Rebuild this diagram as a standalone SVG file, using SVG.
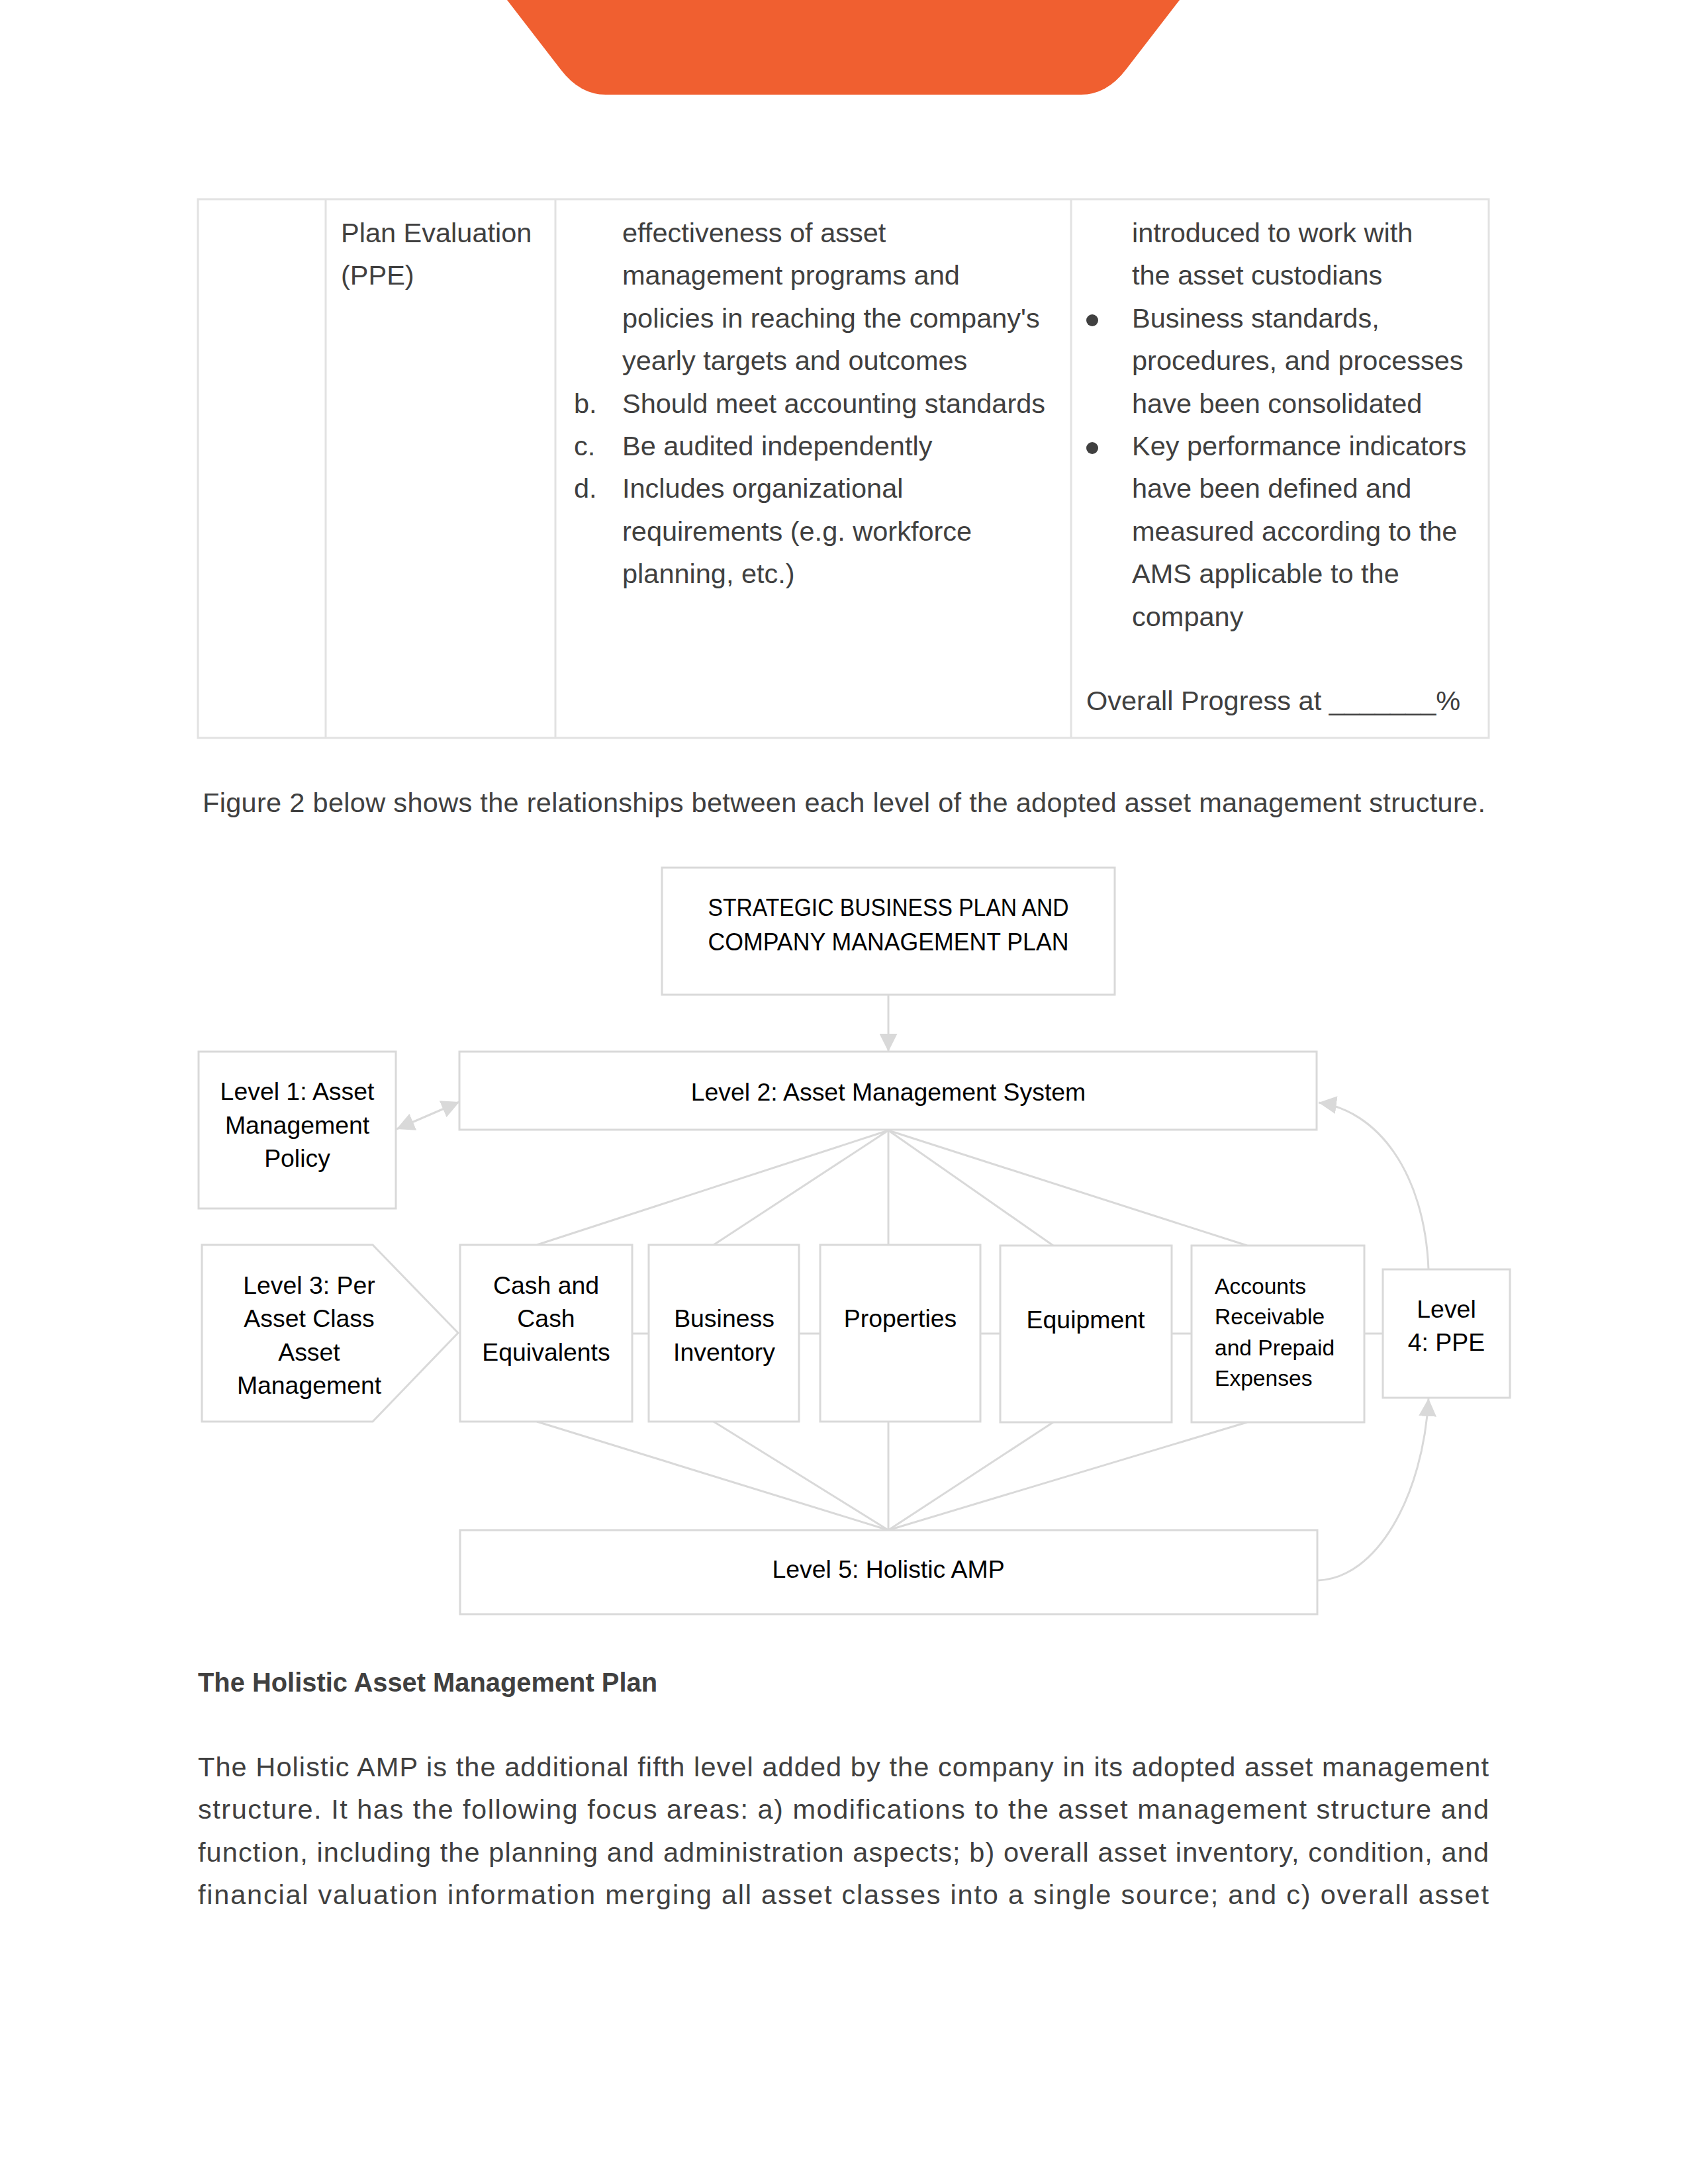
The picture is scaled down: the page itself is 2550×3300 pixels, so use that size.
<svg xmlns="http://www.w3.org/2000/svg" width="2550" height="3300" viewBox="0 0 2550 3300">
<defs>
<style>
.t{font-family:"Liberation Sans",Arial,sans-serif;font-size:41.5px;fill:#404040}
.d{font-family:"Liberation Sans",Arial,sans-serif;font-size:37.4px;fill:#000}
.ds{font-size:33.6px}
.c{text-anchor:middle}
.b{font-weight:bold}
.box{fill:#fff;stroke:#D9D9D9;stroke-width:3}
.tb{fill:none;stroke:#E2E2E2;stroke-width:3}
.ln{fill:none;stroke:#D9D9D9;stroke-width:3}
</style>
<marker id="ah2" viewBox="0 0 10 10" refX="10" refY="5" markerWidth="9" markerHeight="9" orient="auto-start-reverse">
<path d="M0,0 L10,5 L0,10 Z" fill="#D9D9D9"/>
</marker>
</defs>
<rect width="2550" height="3300" fill="#fff"/>
<path d="M766,0 L1782,0 L1701,105 Q1672,143 1633,143 L915,143 Q876,143 847,105 Z" fill="#F05F30"/>

<g id="table">
<rect class="tb" x="299" y="301" width="1950" height="814"/>
<line class="tb" x1="492" y1="301" x2="492" y2="1115"/>
<line class="tb" x1="839" y1="301" x2="839" y2="1115"/>
<line class="tb" x1="1618" y1="301" x2="1618" y2="1115"/>
<text class="t" x="515" y="366">Plan Evaluation</text>
<text class="t" x="515" y="430">(PPE)</text>
<text class="t" x="940" y="366">effectiveness of asset</text>
<text class="t" x="940" y="430">management programs and</text>
<text class="t" x="940" y="495">policies in reaching the company's</text>
<text class="t" x="940" y="559">yearly targets and outcomes</text>
<text class="t" x="867" y="624">b.</text>
<text class="t" x="940" y="624">Should meet accounting standards</text>
<text class="t" x="867" y="688">c.</text>
<text class="t" x="940" y="688">Be audited independently</text>
<text class="t" x="867" y="752">d.</text>
<text class="t" x="940" y="752">Includes organizational</text>
<text class="t" x="940" y="817">requirements (e.g. workforce</text>
<text class="t" x="940" y="881">planning, etc.)</text>
<text class="t" x="1710" y="366">introduced to work with</text>
<text class="t" x="1710" y="430">the asset custodians</text>
<circle cx="1650" cy="484" r="9" fill="#404040"/>
<text class="t" x="1710" y="495">Business standards,</text>
<text class="t" x="1710" y="559">procedures, and processes</text>
<text class="t" x="1710" y="624">have been consolidated</text>
<circle cx="1650" cy="677" r="9" fill="#404040"/>
<text class="t" x="1710" y="688">Key performance indicators</text>
<text class="t" x="1710" y="752">have been defined and</text>
<text class="t" x="1710" y="817">measured according to the</text>
<text class="t" x="1710" y="881">AMS applicable to the</text>
<text class="t" x="1710" y="946">company</text>
<text class="t" x="1641" y="1073">Overall Progress at _______%</text>
</g>

<text class="t c" x="1275" y="1227" textLength="1938" lengthAdjust="spacing">Figure 2 below shows the relationships between each level of the adopted asset management structure.</text>

<g id="connectors">
<line class="ln" x1="1342" y1="1504" x2="1342" y2="1589" marker-end="url(#ah2)"/>
<line class="ln" x1="599" y1="1706" x2="694" y2="1665" marker-start="url(#ah2)" marker-end="url(#ah2)"/>
<line class="ln" x1="1342" y1="1708" x2="811" y2="1881"/>
<line class="ln" x1="1342" y1="1708" x2="1078" y2="1881"/>
<line class="ln" x1="1342" y1="1708" x2="1342" y2="1881"/>
<line class="ln" x1="1342" y1="1708" x2="1591" y2="1882"/>
<line class="ln" x1="1342" y1="1708" x2="1884" y2="1882"/>
<line class="ln" x1="811" y1="2148" x2="1342" y2="2312"/>
<line class="ln" x1="1078" y1="2148" x2="1342" y2="2312"/>
<line class="ln" x1="1342" y1="2148" x2="1342" y2="2312"/>
<line class="ln" x1="1591" y1="2149" x2="1342" y2="2312"/>
<line class="ln" x1="1884" y1="2149" x2="1342" y2="2312"/>
<line class="ln" x1="955" y1="2015" x2="980" y2="2015"/>
<line class="ln" x1="1207" y1="2015" x2="1239" y2="2015"/>
<line class="ln" x1="1481" y1="2015" x2="1511" y2="2015"/>
<line class="ln" x1="1770" y1="2015" x2="1800" y2="2015"/>
<line class="ln" x1="2061" y1="2015" x2="2089" y2="2015"/>
<path class="ln" d="M2158,1918 C2152,1770 2080,1678 1992,1666" marker-end="url(#ah2)"/>
<path class="ln" d="M1991,2388 C2080,2385 2150,2260 2158,2113" marker-end="url(#ah2)"/>
</g>

<g id="strategic">
<rect class="box" x="1000" y="1311" width="684" height="192"/>
<text class="d c" x="1342" y="1384" textLength="545" lengthAdjust="spacingAndGlyphs">STRATEGIC BUSINESS PLAN AND</text>
<text class="d c" x="1342" y="1436" textLength="545" lengthAdjust="spacingAndGlyphs">COMPANY MANAGEMENT PLAN</text>
</g>
<g id="level1">
<rect class="box" x="300" y="1589" width="298" height="237"/>
<text class="d c" x="449" y="1662">Level 1: Asset</text>
<text class="d c" x="449" y="1713">Management</text>
<text class="d c" x="449" y="1763">Policy</text>
</g>
<g id="level2">
<rect class="box" x="694" y="1589" width="1295" height="118"/>
<text class="d c" x="1342" y="1663">Level 2: Asset Management System</text>
</g>
<g id="level3">
<path class="box" d="M305,1881 L563,1881 L692,2014 L563,2148 L305,2148 Z"/>
<text class="d c" x="467" y="1955">Level 3: Per</text>
<text class="d c" x="467" y="2005">Asset Class</text>
<text class="d c" x="467" y="2056">Asset</text>
<text class="d c" x="467" y="2106">Management</text>
</g>
<g id="cash">
<rect class="box" x="695" y="1881" width="260" height="267"/>
<text class="d c" x="825" y="1955">Cash and</text>
<text class="d c" x="825" y="2005">Cash</text>
<text class="d c" x="825" y="2056">Equivalents</text>
</g>
<g id="inventory">
<rect class="box" x="980" y="1881" width="227" height="267"/>
<text class="d c" x="1094" y="2005">Business</text>
<text class="d c" x="1094" y="2056">Inventory</text>
</g>
<g id="properties">
<rect class="box" x="1239" y="1881" width="242" height="267"/>
<text class="d c" x="1360" y="2005">Properties</text>
</g>
<g id="equipment">
<rect class="box" x="1511" y="1882" width="259" height="267"/>
<text class="d c" x="1640" y="2007">Equipment</text>
</g>
<g id="accounts">
<rect class="box" x="1800" y="1882" width="261" height="267"/>
<text class="d ds" x="1835" y="1955">Accounts</text>
<text class="d ds" x="1835" y="2001">Receivable</text>
<text class="d ds" x="1835" y="2048">and Prepaid</text>
<text class="d ds" x="1835" y="2094">Expenses</text>
</g>
<g id="level4">
<rect class="box" x="2089" y="1918" width="192" height="194"/>
<text class="d c" x="2185" y="1991">Level</text>
<text class="d c" x="2185" y="2041">4: PPE</text>
</g>
<g id="level5">
<rect class="box" x="695" y="2312" width="1295" height="127"/>
<text class="d c" x="1342" y="2384">Level 5: Holistic AMP</text>
</g>

<text class="t b" x="299" y="2556" textLength="694" lengthAdjust="spacingAndGlyphs">The Holistic Asset Management Plan</text>
<text class="t" x="299" y="2684" textLength="1950" lengthAdjust="spacing">The Holistic AMP is the additional fifth level added by the company in its adopted asset management</text>
<text class="t" x="299" y="2748" textLength="1950" lengthAdjust="spacing">structure. It has the following focus areas: a) modifications to the asset management structure and</text>
<text class="t" x="299" y="2813" textLength="1950" lengthAdjust="spacing">function, including the planning and administration aspects; b) overall asset inventory, condition, and</text>
<text class="t" x="299" y="2877" textLength="1950" lengthAdjust="spacing">financial valuation information merging all asset classes into a single source; and c) overall asset</text>
</svg>
